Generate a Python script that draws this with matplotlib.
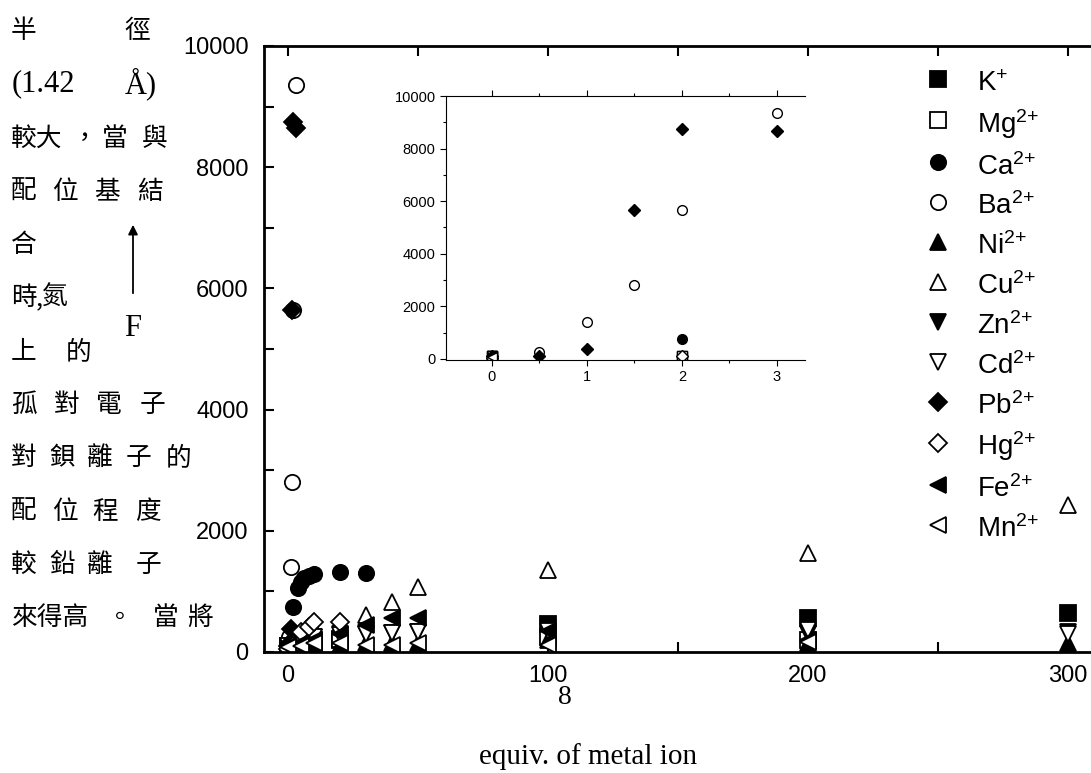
import matplotlib.pyplot as plt
from matplotlib.ticker import MultipleLocator

plt.rcParams['font.family'] = ['Liberation Sans', 'DejaVu Sans']
plt.rcParams['mathtext.fontset'] = 'custom'
plt.rcParams['mathtext.rm'] = 'Liberation Sans'
plt.rcParams['mathtext.default'] = 'regular'

# data (equiv. of metal ion vs. signal)
ions = ['K$^{{+}}$', 'Mg$^{2{+}}$', 'Ca$^{2{+}}$', 'Ba$^{2{+}}$', 'Ni$^{2{+}}$', 'Cu$^{2{+}}$',
        'Zn$^{2{+}}$', 'Cd$^{2{+}}$', 'Pb$^{2{+}}$', 'Hg$^{2{+}}$', 'Fe$^{2{+}}$', 'Mn$^{2{+}}$']

k_x = [0, 2, 5, 10, 20, 100, 200, 300]
k_y = [100, 110, 130, 150, 200, 460, 560, 640]
mg_x = [0, 2, 5, 10, 20, 100, 200]
mg_y = [100, 100, 150, 200, 220, 250, 200]
ca_x = [0, 2, 4, 5, 6, 8, 10, 20, 30]
ca_y = [100, 750, 1060, 1150, 1220, 1260, 1290, 1320, 1310]
ba_x = [0, 0.5, 1, 1.5, 2, 3]
ba_y = [100, 250, 1400, 2800, 5650, 9350]
ni_x = [0, 5, 10, 20, 30, 40, 50, 100, 200, 300]
ni_y = [50, 80, 100, 120, 150, 150, 150, 200, 150, 150]
cu_x = [0, 5, 10, 20, 30, 40, 50, 100, 200, 300]
cu_y = [100, 200, 300, 450, 610, 820, 1070, 1350, 1630, 2430]
zn_x = [0, 5, 10, 20, 30, 40, 50, 100, 200, 300]
zn_y = [100, 200, 250, 300, 300, 320, 330, 400, 300, 330]
cd_x = [0, 5, 10, 20, 30, 40, 50, 100, 200, 300]
cd_y = [100, 200, 250, 280, 290, 310, 330, 350, 360, 300]
pb_x = [0, 0.5, 1, 1.5, 2, 3]
pb_y = [100, 130, 380, 5650, 8750, 8650]
hg_x = [0, 2, 5, 8, 10, 20]
hg_y = [50, 100, 330, 420, 500, 500]
fe_x = [0, 5, 10, 20, 30, 40, 50, 100, 200]
fe_y = [100, 150, 200, 300, 450, 560, 560, 350, 200]
mn_x = [0, 5, 10, 20, 30, 40, 50, 100, 200]
mn_y = [80, 100, 150, 150, 115, 115, 150, 115, 170]

series = [(k_x, k_y), (mg_x, mg_y), (ca_x, ca_y), (ba_x, ba_y), (ni_x, ni_y), (cu_x, cu_y),
          (zn_x, zn_y), (cd_x, cd_y), (pb_x, pb_y), (hg_x, hg_y), (fe_x, fe_y), (mn_x, mn_y)]
markers = ['s', 's', 'o', 'o', '^', '^', 'v', 'v', 'D', 'D', '<', '<']
filled = [True, False] * 6

fig = plt.figure(figsize=(10.91, 7.73), dpi=100)

# main axes (right side runs off the page like the scan)
ax = fig.add_axes([264 / 1091, 121 / 773, 0.785, 606 / 773])
for (x, y), m, f, lab in zip(series, markers, filled, ions):
    ax.plot(x, y, linestyle='none', marker=m, ms=11 if m != 'D' else 9.5,
            mfc='black' if f else 'white', mec='black', mew=1.3, label=lab)
ax.set_xlim(-9.2, 320.2)
ax.set_ylim(0, 10000)
ax.xaxis.set_major_locator(MultipleLocator(100))
ax.xaxis.set_minor_locator(MultipleLocator(50))
ax.yaxis.set_major_locator(MultipleLocator(2000))
ax.yaxis.set_minor_locator(MultipleLocator(1000))
ax.tick_params(which='both', direction='in', top=True, width=1.5, labelsize=17)
ax.tick_params(which='major', length=7)
ax.tick_params(which='minor', length=7)
ax.tick_params(axis='x', pad=9)
ax.tick_params(axis='y', pad=11)
for s in ax.spines.values():
    s.set_linewidth(2)

leg = ax.legend(loc='upper left', bbox_to_anchor=(924 / 1091, 1 - 67 / 773),
                bbox_transform=fig.transFigure, frameon=False, fontsize=20,
                handlelength=1.0, handleheight=1.3, handletextpad=0.9,
                labelspacing=0.34, borderpad=0, borderaxespad=0, numpoints=1)

# inset: the first few equivalents
ins = fig.add_axes([446 / 1091, 413 / 773, 359 / 1091, 264 / 773])
for (x, y), m, f in zip(series, markers, filled):
    ins.plot(x, y, linestyle='none', marker=m, ms=7 if m != 'D' else 6.5,
             mfc='black' if f else 'white', mec='black', mew=1.0)
ins.set_xlim(-0.484, 3.295)
ins.set_ylim(-40, 10000)
ins.xaxis.set_major_locator(MultipleLocator(1))
ins.xaxis.set_minor_locator(MultipleLocator(0.5))
ins.yaxis.set_major_locator(MultipleLocator(2000))
ins.yaxis.set_minor_locator(MultipleLocator(1000))
ins.tick_params(which='both', direction='out', top=True, labelsize=10.5, width=0.8)
ins.tick_params(which='major', length=4)
ins.tick_params(which='minor', length=2.5)
ins.spines['right'].set_visible(False)
for s in ['left', 'bottom', 'top']:
    ins.spines[s].set_linewidth(0.8)

# surrounding page text from the scan
cjk = ['Noto Sans CJK TC', 'DejaVu Sans']
serif = ['Liberation Serif', 'DejaVu Serif']
lines = [
    (31, [(11, '半'), (124, '徑')]),
    (139, [(11, '較大'), (72, '，'), (102, '當'), (142, '與')]),
    (192, [(11, '配'), (52, '位'), (94, '基'), (137, '結')]),
    (245, [(11, '合')]),
    (298, [(11, '時'), (36, ','), (42, '氮')]),
    (352, [(11, '上'), (66, '的')]),
    (405, [(11, '孤'), (54, '對'), (96, '電'), (140, '子')]),
    (458, [(11, '對'), (49, '鋇'), (87, '離'), (126, '子'), (166, '的')]),
    (512, [(11, '配'), (52, '位'), (92, '程'), (135, '度')]),
    (565, [(11, '較'), (49, '鉛'), (87, '離'), (136, '子')]),
    (618, [(11, '來得高'), (107, '。'), (153, '當'), (187, '將')]),
]
for yy, chunks in lines:
    for xx, s in chunks:
        fig.text(xx / 1091, 1 - yy / 773, s, family=cjk, fontsize=18.5,
                 ha='left', va='center')

fig.text(12 / 1091, 1 - 84 / 773, '(1.42', family=serif, fontsize=22, ha='left', va='center')
fig.text(125 / 1091, 1 - 84 / 773, 'Å)', family=serif, fontsize=22, ha='left', va='center')
fig.text(133 / 1091, 1 - 329 / 773, 'F', family=serif, fontsize=22, ha='center', va='center')
ax.annotate('', xy=(133, 773 - 222), xytext=(133, 773 - 296), xycoords='figure pixels',
            textcoords='figure pixels',
            arrowprops=dict(arrowstyle='-|>', color='black', lw=1.3, mutation_scale=14))
fig.text(565 / 1091, 1 - 698 / 773, '8', family=serif, fontsize=20, ha='center', va='center')
fig.text(588 / 1091, 1 - 757 / 773, 'equiv. of metal ion', family=serif, fontsize=21,
         ha='center', va='center')

fig.savefig('out.png', dpi=100)
